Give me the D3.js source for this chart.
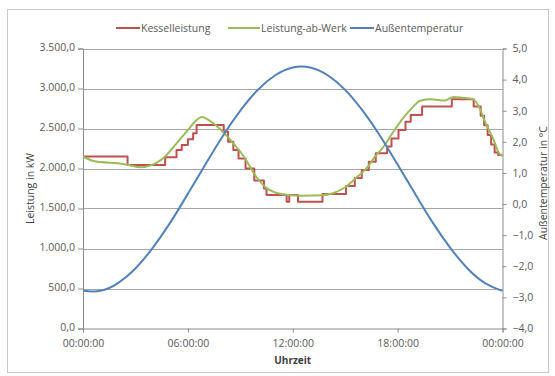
<!DOCTYPE html>
<html><head><meta charset="utf-8">
<script src="https://cdn.jsdelivr.net/npm/d3@7"></script>
<style>
html,body{margin:0;padding:0;background:#fff;}
svg text{font-family:"Open Sans",sans-serif;}
</style></head>
<body><svg id="c" width="555" height="376"></svg>
<script>
// ---- data ----
const timeTickValues = [0, 6, 12, 18, 24];
const timeTickLabels = ["00:00:00", "06:00:00", "12:00:00", "18:00:00", "00:00:00"];
const leftTicks = [0, 500, 1000, 1500, 2000, 2500, 3000, 3500];
const rightTicks = [-4, -3, -2, -1, 0, 1, 2, 3, 4, 5];

// Kesselleistung (step series): hour of change, value in kW
const kesselHours = [0, 2.55, 4.7, 5.35, 5.65, 6.0, 6.3, 6.5, 8.05, 8.3, 8.6, 8.9, 9.3, 9.8, 10.35, 10.5, 11.65, 11.8, 12.3, 13.7, 15.05, 15.55, 15.95, 16.35, 16.75, 17.4, 17.65, 18.05, 18.45, 18.75, 19.4, 21.1, 22.35, 22.75, 22.95, 23.15, 23.35, 23.55, 23.75, 24];
const kesselValues = [2150, 2045, 2140, 2230, 2295, 2365, 2440, 2545, 2460, 2335, 2230, 2125, 2000, 1850, 1750, 1670, 1585, 1670, 1585, 1680, 1780, 1880, 1980, 2085, 2190, 2275, 2375, 2480, 2585, 2670, 2775, 2865, 2775, 2660, 2540, 2420, 2300, 2200, 2170, 2170];

// Leistung-ab-Werk (smooth series)
const werkHours = [0, 0.5, 1, 2, 2.6, 3.3, 3.8, 4.2, 4.7, 5.35, 6.0, 6.5, 6.8, 7.3, 8.0, 8.6, 9.2, 9.9, 10.5, 11.0, 11.7, 12.5, 13.7, 14.3, 15.0, 15.6, 16.3, 16.7, 17.2, 17.7, 18.3, 18.8, 19.3, 19.9, 20.7, 21.2, 21.7, 22.3, 22.6, 23.0, 23.5, 23.8, 24];
const werkValues = [2150, 2100, 2080, 2065, 2045, 2015, 2035, 2070, 2150, 2315, 2480, 2605, 2645, 2590, 2460, 2315, 2150, 1900, 1755, 1700, 1670, 1660, 1665, 1690, 1765, 1877, 2023, 2148, 2273, 2440, 2627, 2752, 2848, 2865, 2850, 2895, 2885, 2865, 2795, 2585, 2356, 2190, 2160];

// Außentemperatur (°C), hourly
const tempHours = [0, 1, 2, 3, 4, 5, 6, 7, 8, 9, 10, 11, 12, 13, 14, 15, 16, 17, 18, 19, 20, 21, 22, 23, 24];
const tempValues = [-2.79, -2.79, -2.54, -2.07, -1.40, -0.59, 0.33, 1.27, 2.19, 3.00, 3.67, 4.14, 4.39, 4.39, 4.14, 3.67, 3.00, 2.19, 1.27, 0.33, -0.59, -1.40, -2.07, -2.54, -2.79];

const seriesNames = ["Kesselleistung", "Leistung-ab-Werk", "Außentemperatur"];
const seriesColors = ["#c0504d", "#9bbb59", "#4f81bd"];

// ---- layout ----
const svg = d3.select("#c");
const L = 83, R = 502.5, T = 48.5, B = 328.5;
const x = d3.scaleLinear().domain([0, 24]).range([L, R]);
const y = d3.scaleLinear().domain([0, 3500]).range([B, T]);
const y2 = d3.scaleLinear().domain([-4, 5]).range([B, T]);

const fmtDE = d3.formatLocale({decimal: ",", thousands: ".", grouping: [3], currency: ["", "€"]});
const f1 = fmtDE.format(",.1f");

// frame
svg.append("rect").attr("x", 7.5).attr("y", 9.5).attr("width", 541).attr("height", 363)
  .attr("fill", "#fff").attr("stroke", "#c8c8c8").attr("stroke-width", 1);

// gridlines
svg.append("g").selectAll("line").data(leftTicks.filter(d => d > 0)).join("line")
  .attr("x1", L).attr("x2", R).attr("y1", d => Math.round(y(d)) + 0.5).attr("y2", d => Math.round(y(d)) + 0.5)
  .attr("stroke", "#a6a6a6").attr("stroke-width", 1);

// axes
const axisColor = "#8c8c8c";
const labelColor = "#595959";
function styleAxis(g) {
  g.select(".domain").attr("stroke", axisColor);
  g.selectAll(".tick line").attr("stroke", axisColor);
  g.selectAll(".tick text").attr("fill", labelColor).attr("font-size", "10.5px").attr("font-family", "'Open Sans',sans-serif");
}
const gl = svg.append("g").attr("transform", `translate(${L},0)`)
  .call(d3.axisLeft(y).tickValues(leftTicks).tickFormat(f1).tickSizeOuter(0).tickSize(5).tickPadding(3));
styleAxis(gl);
gl.selectAll(".tick text").attr("dy", "0.2em");
const gr = svg.append("g").attr("transform", `translate(${R},0)`)
  .call(d3.axisRight(y2).tickValues(rightTicks).tickFormat(f1).tickSizeOuter(0).tickSize(4).tickPadding(6));
styleAxis(gr);
const gb = svg.append("g").attr("transform", `translate(0,${B})`)
  .call(d3.axisBottom(x).tickValues(timeTickValues).tickFormat((d, i) => timeTickLabels[i]).tickSizeOuter(0).tickSize(4).tickPadding(7));
styleAxis(gb);

// axis titles
svg.append("text").attr("x", (L + R) / 2).attr("y", 364).attr("text-anchor", "middle")
  .attr("font-size", "10px").attr("font-weight", "bold").attr("fill", "#404040").text("Uhrzeit");
svg.append("text").attr("transform", `translate(34,${(T + B) / 2}) rotate(-90)`).attr("text-anchor", "middle")
  .attr("font-size", "10.5px").attr("fill", "#404040").text("Leistung in kW");
svg.append("text").attr("transform", `translate(547,183) rotate(-90)`).attr("text-anchor", "middle")
  .attr("font-size", "10.5px").attr("fill", "#404040").text("Außentemperatur in °C");

// lines
const kessel = kesselHours.map((h, i) => [h, kesselValues[i]]);
const werk = werkHours.map((h, i) => [h, werkValues[i]]);
const temp = tempHours.map((h, i) => [h, tempValues[i]]);

svg.append("path").datum(kessel).attr("fill", "none").attr("stroke", seriesColors[0]).attr("stroke-width", 2)
  .attr("stroke-linejoin", "round")
  .attr("d", d3.line().x(d => x(d[0])).y(d => y(d[1])).curve(d3.curveStepAfter));
svg.append("path").datum(werk).attr("fill", "none").attr("stroke", seriesColors[1]).attr("stroke-width", 2)
  .attr("d", d3.line().x(d => x(d[0])).y(d => y(d[1])).curve(d3.curveMonotoneX));
svg.append("path").datum(temp).attr("fill", "none").attr("stroke", seriesColors[2]).attr("stroke-width", 2)
  .attr("d", d3.line().x(d => x(d[0])).y(d => y2(d[1])).curve(d3.curveNatural));

// legend
const legendItems = [
  {x: 116, w: 24},
  {x: 228, w: 32},
  {x: 350, w: 24}
];
const lg = svg.append("g");
seriesNames.forEach((name, i) => {
  const it = legendItems[i];
  lg.append("line").attr("x1", it.x).attr("x2", it.x + it.w).attr("y1", 28).attr("y2", 28)
    .attr("stroke", seriesColors[i]).attr("stroke-width", 2);
  lg.append("text").attr("x", it.x + it.w + 1).attr("y", 31.5).attr("font-size", "10.5px")
    .attr("fill", labelColor).text(name);
});
</script></body></html>
